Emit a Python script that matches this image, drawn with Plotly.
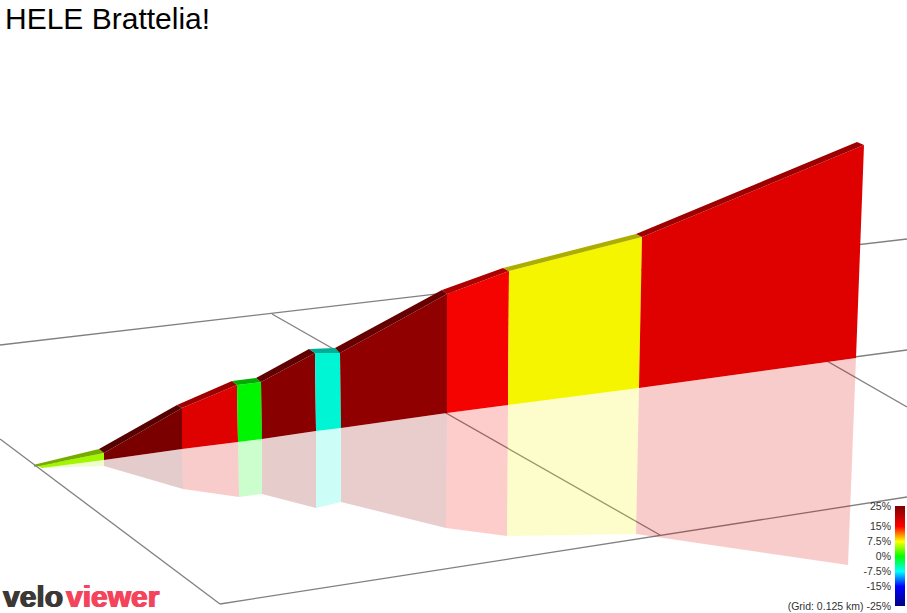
import numpy as np
import plotly.graph_objs as go

# profile, screen x/y of each segment break
top_front_x = [38, 104, 182, 237, 261, 315, 340, 447, 509, 642, 864]
top_y = [466, 453, 408, 385, 382, 353, 353, 294, 271, 237, 145]
base_x = [42, 104, 182, 238, 262, 316, 341, 447, 508, 639, 856]
base_y = [468, 460, 449, 442, 439, 431, 428, 413, 405, 388, 358]
refl_x = [42, 104, 183, 239, 262, 316, 341, 446, 507, 636, 848]
refl_y = [468, 466, 489, 497, 494, 508, 502, 528, 536, 534, 565]
back_x = [33, 99, 177, 232, 256, 309, 335, 442, 503, 636, 857]
back_y = [465, 449, 405, 381, 378, 349, 348, 290, 268, 234, 142]

# gradient of every segment in percent
grades = [5, 25, 16.8, 0, 23.8, -6.5, 23.2, 14.9, 7.5, 16.8]

scale_grades = [-25, -15, -7.5, 0, 7.5, 15, 25]
scale_colors = [(0, 0, 127), (0, 0, 255), (0, 255, 255), (0, 255, 0), (255, 255, 0), (255, 0, 0), (127, 0, 0)]
tick_vals = [25, 15, 7.5, 0, -7.5, -15, -25]
tick_text = ['25%', '15%', '7.5%', '0%', '-7.5%', '-15%', '(Grid: 0.125 km) -25%']

# ground grid, one (x0, y0, x1, y1) per line
grid_lines = [
    (0, 345, 907, 239),
    (34, 466, 907, 350),
    (220, 604, 907, 497),
    (0, 439, 220, 604),
    (272, 314, 660, 535),
    (660, 265, 907, 407),
]


def grade_rgb(g, shade=1.0):
    rgb = [np.interp(g, scale_grades, [c[i] for c in scale_colors]) * shade for i in range(3)]
    return [int(round(v)) for v in rgb]


def poly(xs, ys, color):
    return go.Scatter(x=xs, y=ys, mode='lines', fill='toself', fillcolor=color,
                      line=dict(width=0), hoverinfo='skip', showlegend=False)


def logo_part(text, x, color):
    return dict(text=f'<b>{text}</b>', xref='paper', yref='paper', x=x / 907, y=1 - 596 / 613,
                xanchor='left', yanchor='middle', showarrow=False,
                font=dict(size=30, color=color, shadow=f'0.7px 0 0 {color}, -0.7px 0 0 {color}'))


fig = go.Figure()

for x0, y0, x1, y1 in grid_lines:
    fig.add_trace(go.Scatter(x=[x0, x1], y=[y0, y1], mode='lines', line=dict(color='#808080', width=1.3),
                             hoverinfo='skip', showlegend=False))

for i, g in enumerate(grades):
    r, gr, b = grade_rgb(g, 0.96)
    # mirror on the ground
    fig.add_trace(poly([base_x[i], base_x[i + 1], refl_x[i + 1], refl_x[i]],
                       [base_y[i], base_y[i + 1], refl_y[i + 1], refl_y[i]],
                       f'rgba({r},{gr},{b},0.2)'))
    # wall
    fig.add_trace(poly([top_front_x[i], top_front_x[i + 1], base_x[i + 1], base_x[i]],
                       [top_y[i], top_y[i + 1], base_y[i + 1], base_y[i]],
                       f'rgb({r},{gr},{b})'))
    # top of the wall
    r, gr, b = grade_rgb(g, 0.68)
    fig.add_trace(poly([top_front_x[i], top_front_x[i + 1], back_x[i + 1], back_x[i]],
                       [top_y[i], top_y[i + 1], back_y[i + 1], back_y[i]],
                       f'rgb({r},{gr},{b})'))

# grade key
key_y = np.linspace(-25, 25, 101)
fig.add_trace(go.Heatmap(
    x=[0], y=key_y, z=[[v] for v in key_y], xaxis='x2', yaxis='y2', zmin=-25, zmax=25,
    colorscale=[[(v + 25) / 50, f'rgb{c}'] for v, c in zip(scale_grades, scale_colors)],
    showscale=False, hoverinfo='skip'))

fig.update_layout(
    width=907, height=613, margin=dict(l=0, r=0, t=0, b=0, autoexpand=False),
    paper_bgcolor='white', plot_bgcolor='white', showlegend=False,
    font=dict(family='Liberation Sans', color='#333333'),
    xaxis=dict(range=[0, 907], visible=False, fixedrange=True, automargin=False),
    yaxis=dict(range=[613, 0], visible=False, fixedrange=True, automargin=False),
    xaxis2=dict(domain=[895 / 907, 905 / 907], anchor='y2', visible=False, automargin=False),
    yaxis2=dict(domain=[(613 - 606) / 613, (613 - 506) / 613], anchor='x2', range=[-25, 25],
                tickvals=tick_vals, ticktext=tick_text, showgrid=False, zeroline=False, showline=False,
                ticks='', ticklabelstandoff=3, tickfont=dict(size=10.5, color='#333333'), side='left',
                automargin=False),
    annotations=[
        dict(text='HELE Brattelia!', xref='paper', yref='paper', x=3 / 907, y=1 - 19 / 613,
             xanchor='left', yanchor='middle', showarrow=False,
             font=dict(size=30, color='black')),
        logo_part('velo', 1, '#3c3836'),
        logo_part('viewer', 64, '#f4445c'),
    ],
)

fig.write_html('out.html', post_script="document.body.style.margin='0';", config={'displayModeBar': False})
